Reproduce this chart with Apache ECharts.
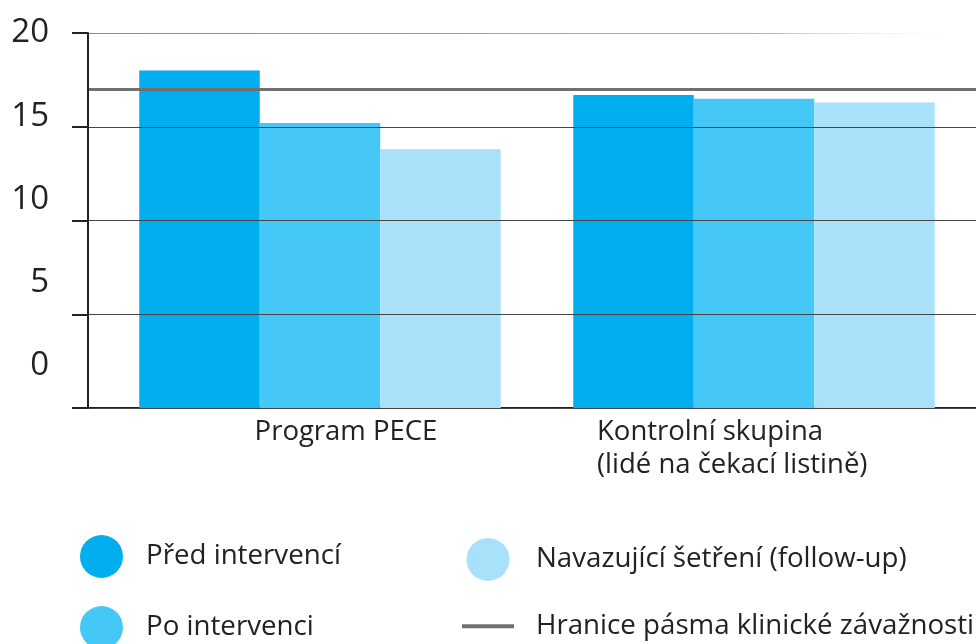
<!DOCTYPE html>
<html>
<head>
<meta charset="utf-8">
<script src="https://cdn.jsdelivr.net/npm/echarts@6/dist/echarts.min.js"></script>
<style>
  html, body { margin: 0; padding: 0; background: #fff; }
  #chart { width: 976px; height: 644px; }
</style>
</head>
<body>
<div id="chart"></div>
<script>
// 数据
const categories = ['Program PECE', 'Kontrolní skupina\n(lidé na čekací listině)'];
const seriesNames = ['Před intervencí', 'Po intervenci', 'Navazující šetření (follow-up)'];
const beforeValues = [18.0, 16.7];
const afterValues = [15.2, 16.5];
const followUpValues = [13.8, 16.3];
const thresholdName = 'Hranice pásma klinické závažnosti';
const thresholdValue = 17;
const yTickLabels = [0, 5, 10, 15, 20];

const colors = ['#00aeef', '#45c8f5', '#a9e1fa'];
const lineColor = '#707070';
const textColor = '#222';

const chart = echarts.init(document.getElementById('chart'));

// 顶部网格线渐隐
const topGridColor = new echarts.graphic.LinearGradient(0, 0, 1, 0, [
  { offset: 0, color: '#8a8a8a' },
  { offset: 0.75, color: '#b0b0b0' },
  { offset: 1, color: 'rgba(255,255,255,0)' }
]);

chart.setOption({
  animation: false,
  textStyle: { fontFamily: 'Open Sans' },
  grid: [
    { left: 88, right: 0, top: 33, bottom: 236, outerBoundsMode: 'none' },
    { left: 103, right: 5, top: 33, bottom: 236, outerBoundsMode: 'none' }
  ],
  legend: [
    {
      orient: 'vertical',
      left: 80,
      top: 535,
      height: 140,
      itemWidth: 43,
      itemHeight: 43,
      itemGap: 28,
      icon: 'circle',
      selectedMode: false,
      padding: 0,
      textStyle: { fontSize: 27.7, color: textColor, padding: [0, 0, 0, 18] },
      data: [seriesNames[0], seriesNames[1]]
    },
    {
      orient: 'vertical',
      left: 460,
      top: 538,
      height: 140,
      itemWidth: 52,
      itemHeight: 43,
      itemGap: 28,
      selectedMode: false,
      padding: 0,
      lineStyle: { width: 4, color: lineColor },
      textStyle: { fontSize: 27.7, color: textColor, padding: [0, 0, 0, 17] },
      data: [
        { name: seriesNames[2], icon: 'circle' },
        { name: thresholdName, itemStyle: { color: 'rgba(0,0,0,0)', borderWidth: 0, opacity: 0 } }
      ]
    }
  ],
  xAxis: [
    {
      type: 'category',
      gridIndex: 0,
      data: categories,
      axisLine: { lineStyle: { color: textColor, width: 2 } },
      axisTick: {
        length: 9,
        interval: (i) => i === 1,
        lineStyle: { color: '#444', width: 1.5 }
      },
      axisLabel: {
        interval: 0,
        margin: 8,
        color: textColor,
        formatter: (value, index) => index === 0
          ? '{p|' + value + '}'
          : value.split('\n').map(s => '{k|' + s + '}').join('\n'),
        rich: {
          p: { fontSize: 27.5, lineHeight: 33, color: textColor, padding: [0, 0, 0, 72] },
          k: { fontSize: 27.5, lineHeight: 33, color: textColor, width: 314, align: 'left' }
        }
      }
    },
    { type: 'category', gridIndex: 1, data: categories, show: false }
  ],
  yAxis: [
    {
      type: 'value',
      gridIndex: 0,
      position: 'left',
      min: 0,
      max: 20,
      interval: 5,
      z: 10,
      axisLine: { show: true, lineStyle: { color: textColor, width: 2 } },
      axisTick: { show: true, length: 16, lineStyle: { color: textColor, width: 2 } },
      axisLabel: { show: false },
      splitLine: {
        show: true,
        lineStyle: { color: ['#444', '#444', '#444', '#444', topGridColor], width: 1 }
      }
    },
    { type: 'value', gridIndex: 1, min: 0, max: 20, show: false },
    {
      // 刻度文字（原图中文字与网格线不对齐）
      type: 'value',
      gridIndex: 0,
      position: 'left',
      min: -2.55,
      max: 20,
      axisLine: { show: false },
      axisTick: { show: false },
      splitLine: { show: false },
      axisLabel: {
        customValues: yTickLabels,
        margin: 39,
        fontSize: 33,
        color: textColor
      }
    }
  ],
  series: [
    {
      name: seriesNames[0], type: 'bar', xAxisIndex: 1, yAxisIndex: 1,
      barWidth: 120.5, barGap: '0%',
      itemStyle: { color: colors[0] }, data: beforeValues
    },
    {
      name: seriesNames[1], type: 'bar', xAxisIndex: 1, yAxisIndex: 1,
      barWidth: 120.5, barGap: '0%',
      itemStyle: { color: colors[1] }, data: afterValues
    },
    {
      name: seriesNames[2], type: 'bar', xAxisIndex: 1, yAxisIndex: 1,
      barWidth: 120.5, barGap: '0%',
      itemStyle: { color: colors[2] }, data: followUpValues
    },
    {
      name: thresholdName, type: 'line', xAxisIndex: 0, yAxisIndex: 0,
      z: 5,
      symbol: 'none',
      itemStyle: { color: lineColor },
      lineStyle: { color: lineColor, width: 4 },
      data: [],
      markLine: {
        silent: true,
        symbol: 'none',
        label: { show: false },
        lineStyle: { type: 'solid', color: lineColor, width: 3 },
        data: [{ yAxis: thresholdValue }]
      }
    }
  ]
});
</script>
</body>
</html>
